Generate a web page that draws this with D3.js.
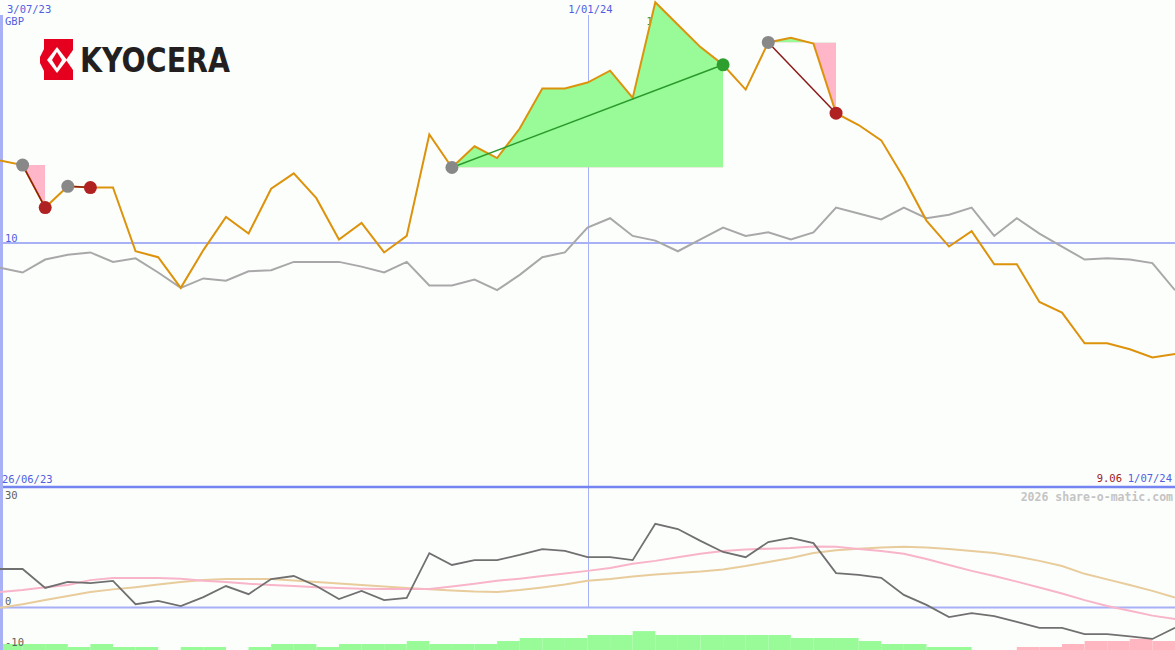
<!DOCTYPE html>
<html><head><meta charset="utf-8">
<script src="https://cdn.jsdelivr.net/npm/d3@7"></script>
<style>html,body{margin:0;padding:0;background:#fcfefc;}svg{display:block}</style>
</head><body>
<script>
// ---- data ----
const xTickLabels = [{i:0, label:"3/07/23"}, {i:26, label:"1/01/24"}];
const startLabel = "26/06/23", endLabel = "1/07/24", currency = "GBP";
const price = [10.70,10.66,10.30,10.48,10.47,10.47,9.93,9.88,9.62,9.94,10.22,10.08,10.46,10.59,10.38,10.03,10.17,9.92,10.06,10.92,10.64,10.82,10.72,10.97,11.31,11.31,11.36,11.46,11.23,12.04,11.85,11.66,11.51,11.30,11.70,11.74,11.69,11.10,11.00,10.87,10.55,10.19,9.97,10.10,9.82,9.82,9.50,9.41,9.15,9.15,9.10,9.03,9.06];
const indexLine = [9.79,9.75,9.86,9.90,9.92,9.84,9.87,9.75,9.62,9.70,9.68,9.76,9.77,9.84,9.84,9.84,9.80,9.75,9.84,9.64,9.64,9.69,9.60,9.73,9.88,9.92,10.13,10.21,10.06,10.02,9.93,10.03,10.13,10.06,10.09,10.03,10.09,10.30,10.25,10.20,10.30,10.21,10.24,10.30,10.06,10.21,10.08,9.97,9.86,9.87,9.86,9.83,9.60];
const priceTicks = [10];
const highLabel = "12";
const trades = [[1,2],[3,4],[20,32],[34,37]];
const momentum = [10.4,10.4,5.3,6.9,6.6,7.2,0.9,1.8,0.4,2.8,5.8,3.6,7.7,8.5,5.8,2.3,4.5,2.0,2.6,14.7,11.5,12.8,12.8,14.2,15.8,15.3,13.6,13.6,12.8,22.6,21.2,18.0,15.0,13.6,17.7,18.8,17.4,9.3,8.8,8.0,3.4,0.7,-2.6,-1.5,-2.3,-3.9,-5.5,-5.5,-7.2,-7.2,-7.8,-8.5,-5.5];
const maFast = [4.2,4.7,5.5,6.1,7.4,8.0,8.0,8.0,7.8,7.2,6.9,6.4,6.1,5.8,5.5,5.3,5.1,5.0,5.0,5.0,5.7,6.4,7.2,7.8,8.5,9.2,9.9,10.7,11.8,12.6,13.6,14.5,15.3,15.7,15.9,16.1,16.5,16.4,15.8,15.3,14.5,13.1,11.5,9.9,8.5,7.0,5.4,3.8,2.0,0.4,-0.9,-2.2,-3.1];
const maSlow = [-0.1,0.9,2.0,3.1,4.2,4.9,5.5,6.2,6.9,7.4,7.7,7.7,7.7,7.3,6.9,6.5,6.1,5.7,5.3,4.9,4.6,4.3,4.2,4.7,5.4,6.2,7.2,7.7,8.4,8.9,9.3,9.7,10.3,11.2,12.3,13.4,14.7,15.5,15.9,16.2,16.4,16.2,15.8,15.3,14.7,13.8,12.6,11.2,9.1,7.6,6.1,4.5,2.7];
const hist = [2,2,2,1,2,1,1,0,1,1,0,1,2,2,1,2,2,2,3,2,2,2,3,4,4,4,5,5,6.3,5,5,5,5,5,5,4,4,4,3,2,2,1,1,0,0,-1,-1,-2,-3,-3,-3.7,-3];
const lowerTicks = [30, 0, -10];
const copyright = "2026 share-o-matic.com";

// ---- drawing ----
const W = 1175, H = 650;
const svg = d3.select("body").append("svg").attr("width", W).attr("height", H);
svg.append("rect").attr("width", W).attr("height", H).attr("fill", "#fcfefc");

const x = d3.scaleLinear().domain([0, price.length - 1]).range([0, W]);
const y = d3.scaleLinear().domain([8, 12]).range([479, 7]);
const yl = d3.scaleLinear().domain([-10, 30]).range([644.5, 496.5]);
const hy = d3.scaleLinear().domain([0, 1]).range([0, 3]);
const mono = "'DejaVu Sans Mono', monospace";
const blueText = "#5060e0";

// histogram
svg.append("g").selectAll("rect").data(hist).join("rect")
  .attr("x", (d, k) => x(k)).attr("width", (d, k) => x(k + 1) - x(k))
  .attr("y", d => H - hy(Math.abs(d))).attr("height", d => hy(Math.abs(d)))
  .attr("fill", d => d >= 0 ? "#98fb98" : "#ffb6c1");

// grid lines
svg.append("g").selectAll("line").data(priceTicks).join("line")
  .attr("x1", 0).attr("x2", W).attr("y1", d => y(d)).attr("y2", d => y(d))
  .attr("stroke", "#a8b0f6").attr("stroke-width", 2);
svg.append("line").attr("x1", 0).attr("x2", W).attr("y1", yl(0)).attr("y2", yl(0))
  .attr("stroke", "#a8b0f6").attr("stroke-width", 2);
svg.append("g").selectAll("line").data(xTickLabels.filter(d => d.i > 0)).join("line")
  .attr("x1", d => Math.round(x(d.i)) + 0.5).attr("x2", d => Math.round(x(d.i)) + 0.5)
  .attr("y1", 15).attr("y2", yl(0))
  .attr("stroke", "#a8b0f6").attr("stroke-width", 1);
svg.append("line").attr("x1", 0).attr("x2", W).attr("y1", 487).attr("y2", 487)
  .attr("stroke", "#7484f0").attr("stroke-width", 2.5);
svg.append("line").attr("x1", 1.5).attr("x2", 1.5).attr("y1", 15).attr("y2", H)
  .attr("stroke", "#a8b0f6").attr("stroke-width", 3);

// index line
const line = d3.line().x((d, i) => x(i)).y(d => y(d));
svg.append("path").datum(indexLine).attr("d", line)
  .attr("fill", "none").attr("stroke", "#a8a8a8").attr("stroke-width", 2);

// high label (partly hidden by fill)
const hiIdx = d3.maxIndex(price);
svg.append("text").attr("x", x(hiIdx) - 9).attr("y", 25).text(highLabel)
  .attr("font-family", mono).attr("font-size", 11).attr("fill", "#2a9a2a");

// trade fills
const defs = svg.append("defs");
trades.forEach(([a, b], t) => {
  const e = price[a];
  const seg = d3.range(a, b + 1);
  const area = d3.area().x(i => x(i)).y0(y(e)).y1(i => y(price[i]));
  defs.append("clipPath").attr("id", "up" + t).append("rect")
    .attr("x", x(a)).attr("width", x(b) - x(a)).attr("y", 0).attr("height", y(e));
  defs.append("clipPath").attr("id", "dn" + t).append("rect")
    .attr("x", x(a)).attr("width", x(b) - x(a)).attr("y", y(e)).attr("height", H - y(e));
  svg.append("path").datum(seg).attr("d", area).attr("fill", "#98fb98").attr("clip-path", `url(#up${t})`);
  svg.append("path").datum(seg).attr("d", area).attr("fill", "#ffb6c8").attr("clip-path", `url(#dn${t})`);
});

// price line
svg.append("path").datum(price).attr("d", line)
  .attr("fill", "none").attr("stroke", "#dd920c").attr("stroke-width", 2);

// trade lines + markers
trades.forEach(([a, b]) => {
  const gain = price[b] > price[a];
  svg.append("line").attr("x1", x(a)).attr("y1", y(price[a])).attr("x2", x(b)).attr("y2", y(price[b]))
    .attr("stroke", gain ? "#2a9a2a" : "#8b1a1a").attr("stroke-width", 1.5);
});
trades.forEach(([a, b]) => {
  const gain = price[b] > price[a];
  svg.append("circle").attr("cx", x(a)).attr("cy", y(price[a])).attr("r", 6.5).attr("fill", "#888");
  svg.append("circle").attr("cx", x(b)).attr("cy", y(price[b])).attr("r", 6.5).attr("fill", gain ? "#2e9e2e" : "#b02222");
});

// lower panel lines
const lline = d3.line().x((d, i) => x(i)).y(d => yl(d));
svg.append("path").datum(maSlow).attr("d", lline).attr("fill", "none").attr("stroke", "#e8cc9c").attr("stroke-width", 2);
svg.append("path").datum(maFast).attr("d", lline).attr("fill", "none").attr("stroke", "#f8b4c8").attr("stroke-width", 2);
svg.append("path").datum(momentum).attr("d", lline).attr("fill", "none").attr("stroke", "#707070").attr("stroke-width", 1.8);

// texts
const txt = (s, xx, yy, col, anchor, size, weight) => svg.append("text").attr("x", xx).attr("y", yy).text(s)
  .attr("font-family", mono).attr("font-size", size || 10.5).attr("fill", col)
  .attr("text-anchor", anchor || "start").attr("font-weight", weight || "normal");
xTickLabels.forEach(d => txt(d.label, d.i === 0 ? 7 : x(d.i) + 3, 13, blueText, d.i === 0 ? "start" : "middle"));
txt(currency, 5, 25, blueText);
priceTicks.forEach(v => txt(String(v), 5, y(v) - 1, blueText));
txt(startLabel, 2, 483, blueText);
txt(endLabel, 1172, 482, blueText, "end");
txt(price[price.length - 1].toFixed(2), 1122, 482, "#a02020", "end");
txt(copyright, 1173, 501, "#c4c4c4", "end", 11.5, "bold");
lowerTicks.forEach(v => txt(String(v), 5, Math.min(v === 0 ? yl(v) - 2.5 : yl(v) + 2.5, 646), "#606060"));

// logo
const logo = svg.append("g");
logo.append("path").attr("d", "M44,39 L73,39 L73,80 L44,80 L44,71 L40,63 L40,57 L44,49 Z").attr("fill", "#e60020");
logo.append("path").attr("d", "M57,47 L67,60 L57,73 L47,60 Z").attr("fill", "#fcfefc");
logo.append("path").attr("d", "M73,50 L66,60 L73,70 Z").attr("fill", "#fcfefc");
logo.append("path").attr("d", "M57,52 L62,60 L57,68 L52,60 Z").attr("fill", "#e60020");
logo.append("text").attr("x", 80).attr("y", 72).text("KYOCERA")
  .attr("font-family", "'DejaVu Sans', sans-serif").attr("font-weight", "bold").attr("font-size", 33)
  .attr("textLength", 150).attr("lengthAdjust", "spacingAndGlyphs").attr("fill", "#231f20");
</script>
</body></html>
